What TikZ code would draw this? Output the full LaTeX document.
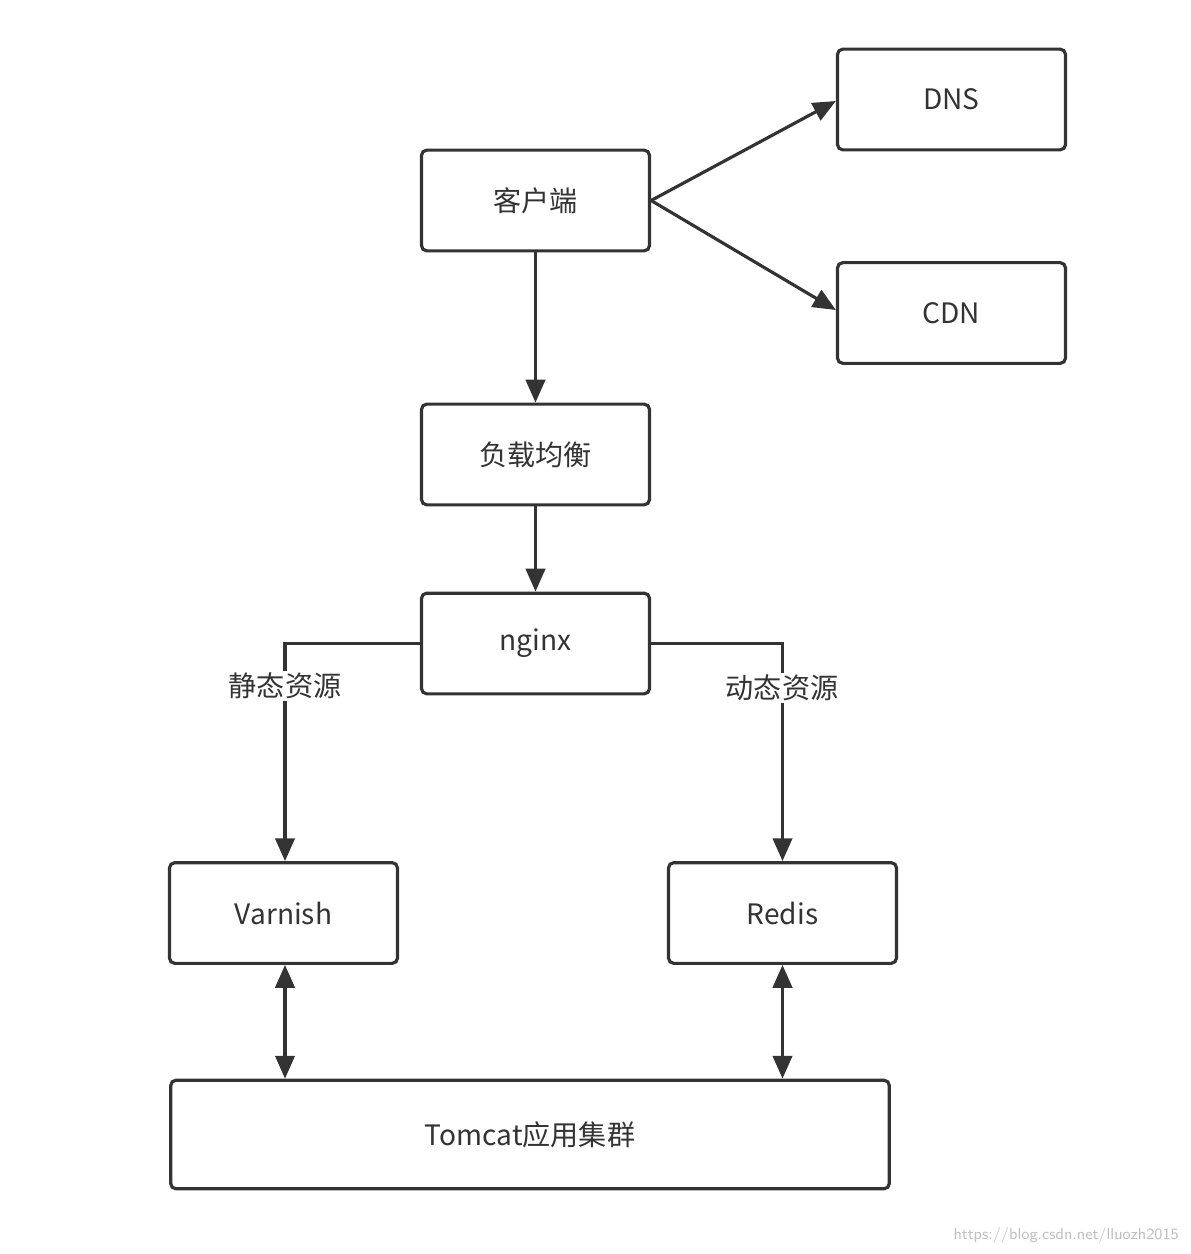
\documentclass[tikz,border=0pt]{standalone}
\usepackage{fontspec}
\setmainfont{Noto Sans CJK SC}
\usetikzlibrary{arrows.meta}
\tikzset{
  box/.style={draw=black!80, line width=1.8pt, rounded corners=3pt, fill=white,
    minimum width=129.8pt, minimum height=57.3pt, font=\fontsize{16}{18}\selectfont, text=black!80},
  link/.style={draw=black!80, line width=1.8pt, -{Triangle[length=13pt,width=11pt]}},
  both/.style={link, {Triangle[length=13pt,width=11pt]}-{Triangle[length=13pt,width=11pt]}},
  tag/.style={fill=white, font=\fontsize{16}{18}\selectfont, text=black!80, inner sep=1pt}
}
\begin{document}
\begin{tikzpicture}[x=0.02cm, y=-0.02cm]
    \useasboundingbox (0,0) rectangle (1190,1254);
    \node[box] (client) at (535.5,200.5) {客户端};
    \node[box] (dns) at (951.5,99.5) {DNS};
    \node[box] (cdn) at (951.5,313) {CDN};
    \node[box] (lb) at (535.5,454.5) {负载均衡};
    \node[box] (nginx) at (535.5,643.5) {nginx};
    \node[box] (varnish) at (283.5,913) {Varnish};
    \node[box] (redis) at (782.5,913) {Redis};
    \node[box, minimum width=409pt, minimum height=61.8pt] (tomcat) at (530,1134.5) {Tomcat应用集群};
    % 客户端 -> DNS / CDN
    \draw[link] (client.east) -- (dns.west |- 0,101);
    \draw[link] (client.east) -- (cdn.west |- 0,310);
    \draw[link] (client) -- (lb);
    \draw[link] (lb) -- (nginx);
    % 静态 / 动态
    \draw[link] (nginx.west) -| (varnish.north -| 285,0);
    \draw[link] (nginx.east) -| (redis.north);
    \node[tag] (static) at (285,686) {静态资源};
    \node[tag] (dynamic) at (782,688) {动态资源};
    \draw[both] (varnish.south -| 285,0) -- (tomcat.north -| 285,0);
    \draw[both] (redis.south) -- (tomcat.north -| redis.south);
    \node[anchor=east, text=black!25, font=\sffamily\fontsize{9}{10}\selectfont] (mark) at (1185,1236) {https://blog.csdn.net/lluozh2015};
\end{tikzpicture}
\end{document}
